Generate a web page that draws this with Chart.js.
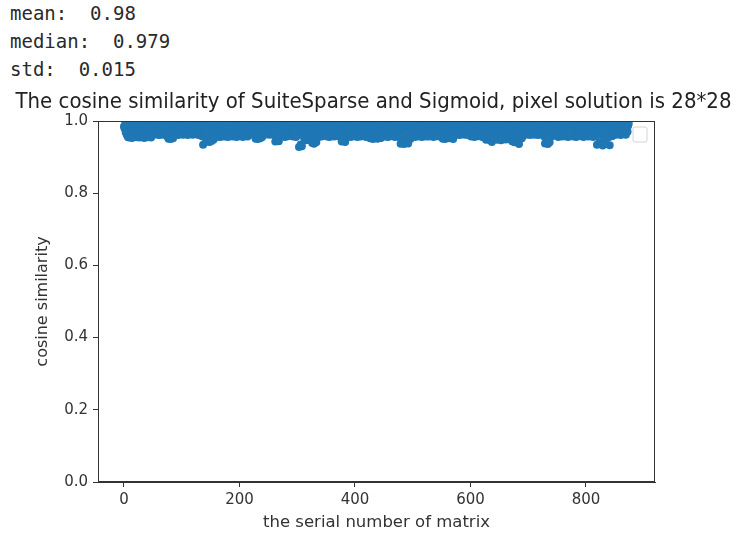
<!DOCTYPE html>
<html>
<head>
<meta charset="utf-8">
<script src="https://cdn.jsdelivr.net/npm/chart.js@4.4.1/dist/chart.umd.min.js"></script>
<style>
  html, body { margin: 0; padding: 0; background: #fff; }
  #wrap { position: relative; width: 740px; height: 538px; overflow: hidden; }
  #stats { position: absolute; left: 10px; top: -1px; margin: 0; font: 19px/28px 'DejaVu Sans Mono', monospace; color: #2a2a2a; white-space: pre; }
  canvas { position: absolute; left: 0; top: 0; }
</style>
</head>
<body>
<div id="wrap">
<pre id="stats"></pre>
<canvas id="myChart" width="740" height="538"></canvas>
</div>
<script>
// printed summary above the plot
const statNames = ['mean', 'median', 'std'];
const statValues = ['0.98', '0.979', '0.015'];

const titleText = 'The cosine similarity of SuiteSparse and Sigmoid, pixel solution is 28*28';
const xLabel = 'the serial number of matrix';
const yLabel = 'cosine similarity';

const xTicks = [0, 200, 400, 600, 800];
const yTicks = [0, 0.2, 0.4, 0.6, 0.8, 1.0];

// cosine similarity per matrix, index = serial number (25 per row)
const similarity = [
  .985,.979,.991,.968,.996,.961,.983,.955,.990,.972,.954,.987,.966,.998,.953,.981,.975,.994,.957,.986,.969,.992,.955,.978,.988,
  .962,.993,.954,.980,.971,.997,.956,.984,.967,.990,.953,.976,.995,.963,.982,.955,.989,.970,.999,.958,.985,.973,.954,.991,.979,
  .968,.994,.962,.983,.976,.998,.964,.987,.971,.991,.961,.980,.996,.967,.985,.962,.990,.974,.993,.965,.982,.978,.961,.995,.986,
  .957,.990,.951,.978,.969,.996,.950,.984,.963,.992,.952,.975,.988,.966,.997,.962,.981,.973,.994,.961,.986,.970,.999,.964,.983,
  .972,.993,.962,.985,.977,.998,.965,.989,.970,.982,.961,.995,.975,.987,.963,.991,.979,.968,.997,.962,.984,.974,.992,.966,.988,
  .963,.990,.969,.996,.961,.981,.974,.993,.962,.986,.958,.977,.934,.989,.965,.998,.953,.980,.971,.943,.992,.967,.984,.942,.975,
  .995,.944,.983,.960,.991,.948,.972,.987,.955,.999,.966,.981,.957,.994,.970,.985,.956,.978,.992,.963,.988,.957,.974,.996,.968,
  .982,.957,.990,.971,.997,.956,.985,.966,.993,.976,.958,.988,.969,.999,.957,.980,.973,.994,.962,.986,.956,.979,.991,.965,.984,
  .995,.958,.977,.989,.964,.998,.956,.983,.972,.992,.960,.986,.968,.996,.957,.981,.975,.990,.962,.987,.970,.994,.963,.979,.988,
  .967,.993,.975,.951,.986,.971,.997,.950,.982,.965,.990,.952,.978,.995,.955,.984,.969,.992,.962,.988,.974,.998,.963,.981,.991,
  .966,.985,.962,.994,.977,.989,.963,.998,.972,.983,.961,.991,.943,.976,.996,.948,.987,.968,.944,.993,.979,.958,.990,.970,.985,
  .957,.997,.974,.988,.956,.982,.993,.967,.985,.958,.999,.971,.990,.960,.980,.995,.963,.987,.957,.976,.992,.968,.984,.956,.994,
  .978,.962,.991,.928,.985,.971,.935,.996,.930,.982,.966,.989,.952,.977,.998,.947,.984,.969,.993,.948,.986,.973,.995,.950,.981,
  .964,.939,.990,.975,.937,.997,.958,.983,.941,.992,.968,.986,.956,.979,.994,.961,.988,.957,.999,.972,.984,.959,.991,.966,.987,
  .976,.995,.957,.982,.969,.990,.956,.998,.974,.985,.960,.993,.967,.980,.957,.996,.971,.988,.962,.983,.994,.958,.977,.991,.965,
  .986,.961,.943,.992,.975,.946,.997,.968,.942,.984,.990,.955,.979,.996,.957,.987,.970,.993,.956,.981,.998,.963,.985,.972,.994,
  .958,.983,.969,.999,.956,.988,.975,.991,.962,.984,.957,.995,.971,.986,.959,.980,.997,.964,.989,.956,.977,.993,.967,.985,.960,
  .991,.952,.979,.996,.966,.984,.950,.989,.973,.998,.955,.982,.968,.993,.951,.987,.976,.995,.960,.981,.953,.990,.970,.986,.958,
  .994,.972,.985,.957,.997,.965,.988,.956,.980,.992,.969,.983,.958,.999,.974,.987,.961,.990,.976,.956,.995,.967,.982,.959,.989,
  .971,.996,.955,.984,.937,.990,.966,.940,.998,.978,.936,.987,.961,.993,.945,.981,.972,.938,.995,.969,.986,.950,.991,.975,.983,
  .958,.992,.977,.999,.956,.985,.968,.994,.960,.981,.989,.957,.973,.997,.964,.986,.956,.990,.979,.962,.995,.970,.983,.957,.988,
  .996,.966,.982,.957,.991,.974,.998,.959,.985,.970,.993,.956,.980,.988,.963,.997,.976,.958,.990,.968,.984,.999,.957,.979,.992,
  .965,.987,.951,.995,.974,.983,.950,.998,.969,.990,.955,.979,.993,.952,.986,.972,.997,.958,.981,.991,.950,.976,.994,.963,.988,
  .978,.962,.996,.984,.970,.992,.961,.987,.999,.967,.981,.963,.994,.975,.989,.962,.983,.997,.968,.990,.973,.961,.986,.995,.971,
  .984,.957,.993,.976,.998,.962,.988,.956,.980,.995,.969,.985,.958,.991,.973,.999,.960,.982,.966,.994,.956,.987,.977,.990,.964,
  .983,.996,.948,.972,.989,.958,.994,.967,.981,.947,.998,.975,.942,.986,.962,.992,.951,.979,.997,.965,.985,.948,.990,.970,.995,
  .956,.980,.993,.947,.987,.971,.999,.952,.984,.966,.991,.949,.977,.996,.960,.988,.973,.994,.950,.982,.968,.990,.944,.985,.997,
  .963,.941,.989,.975,.998,.956,.983,.969,.993,.936,.980,.991,.965,.996,.952,.986,.974,.961,.992,.978,.987,.962,.999,.971,.984,
  .995,.967,.982,.961,.990,.976,.997,.963,.985,.972,.993,.962,.988,.979,.999,.966,.983,.961,.994,.974,.987,.964,.991,.980,.996,
  .970,.986,.958,.993,.938,.979,.997,.945,.984,.936,.990,.968,.941,.995,.975,.957,.988,.981,.999,.962,.985,.973,.992,.959,.987,
  .977,.994,.956,.983,.970,.998,.960,.989,.975,.957,.992,.966,.985,.999,.958,.980,.993,.969,.987,.956,.996,.973,.982,.962,.990,
  .968,.985,.997,.957,.979,.991,.964,.986,.956,.995,.972,.983,.960,.998,.976,.989,.958,.993,.967,.981,.999,.956,.984,.974,.992,
  .961,.988,.975,.996,.957,.983,.970,.994,.959,.986,.978,.999,.956,.990,.965,.981,.997,.958,.985,.934,.992,.972,.938,.987,.963,
  .995,.942,.980,.969,.932,.991,.977,.998,.948,.984,.936,.993,.966,.987,.955,.979,.933,.996,.971,.989,.958,.983,.997,.962,.990,
  .974,.986,.962,.994,.979,.999,.965,.988,.972,.992,.961,.983,.997,.968,.985,.963,.995,.976,.989,.962,.981,.998,.970,.987,.993
];

document.getElementById('stats').textContent =
  statNames.map((n, i) => n + ':  ' + statValues[i]).join('\n');

// matplotlib style box round the axes, the empty legend square and the (wide) title
const framePlugin = {
  id: 'frame',
  afterDraw(chart) {
    const { ctx, chartArea: a } = chart;
    ctx.save();
    ctx.strokeStyle = '#333';
    ctx.lineWidth = 1;
    ctx.strokeRect(a.left + 0.5, a.top + 0.5, a.right - a.left - 1, a.bottom - a.top - 1);
    ctx.strokeStyle = '#d4d4d4';
    ctx.fillStyle = '#fff';
    ctx.beginPath();
    ctx.roundRect(a.right - 22, a.top + 6, 14, 15, 2);
    ctx.fill();
    ctx.stroke();
    // title runs wider than the axes; glyphs are narrow in the reference
    ctx.fillStyle = '#222';
    ctx.font = "22px 'DejaVu Sans', sans-serif";
    ctx.textAlign = 'center';
    ctx.textBaseline = 'alphabetic';
    ctx.fillText(titleText, (a.left + a.right) / 2 - 3, a.top - 13, 716);
    ctx.restore();
  }
};

Chart.defaults.font.family = "'DejaVu Sans', sans-serif";
Chart.defaults.color = '#333';

const ctx = document.getElementById('myChart');
new Chart(ctx, {
  type: 'scatter',
  data: {
    datasets: [{
      data: similarity.map((v, i) => ({ x: i, y: v })),
      backgroundColor: '#1f77b4',
      borderWidth: 0,
      pointRadius: 4,
      pointHoverRadius: 4,
      clip: 0
    }]
  },
  options: {
    responsive: false,
    animation: false,
    devicePixelRatio: 1,
    events: [],
    layout: { padding: { left: 0, right: 85, top: 121, bottom: 0 } },
    plugins: {
      legend: { display: false },
      tooltip: { enabled: false },
      title: { display: false }
    },
    scales: {
      x: {
        type: 'linear',
        min: -45,
        max: 919.5,
        afterBuildTicks: s => { s.ticks = xTicks.map(v => ({ value: v })); },
        afterFit: s => { s.height = 56; },
        grid: { drawOnChartArea: false, drawTicks: true, tickLength: 5, color: '#333' },
        border: { color: '#333' },
        ticks: { font: { size: 15 }, padding: 4, maxRotation: 0, autoSkip: false },
        title: { display: true, text: xLabel, font: { size: 16.5 }, padding: { top: 0, bottom: 5 } }
      },
      y: {
        type: 'linear',
        min: 0,
        max: 1,
        afterBuildTicks: s => { s.ticks = yTicks.map(v => ({ value: v })); },
        afterFit: s => { s.width = 98; },
        grid: { drawOnChartArea: false, drawTicks: true, tickLength: 5, color: '#333' },
        border: { color: '#333' },
        ticks: { font: { size: 15 }, padding: 5, callback: v => v.toFixed(1) },
        title: { display: true, text: yLabel, font: { size: 16 }, padding: { top: 33, bottom: 0 } }
      }
    }
  },
  plugins: [framePlugin]
});
</script>
</body>
</html>
